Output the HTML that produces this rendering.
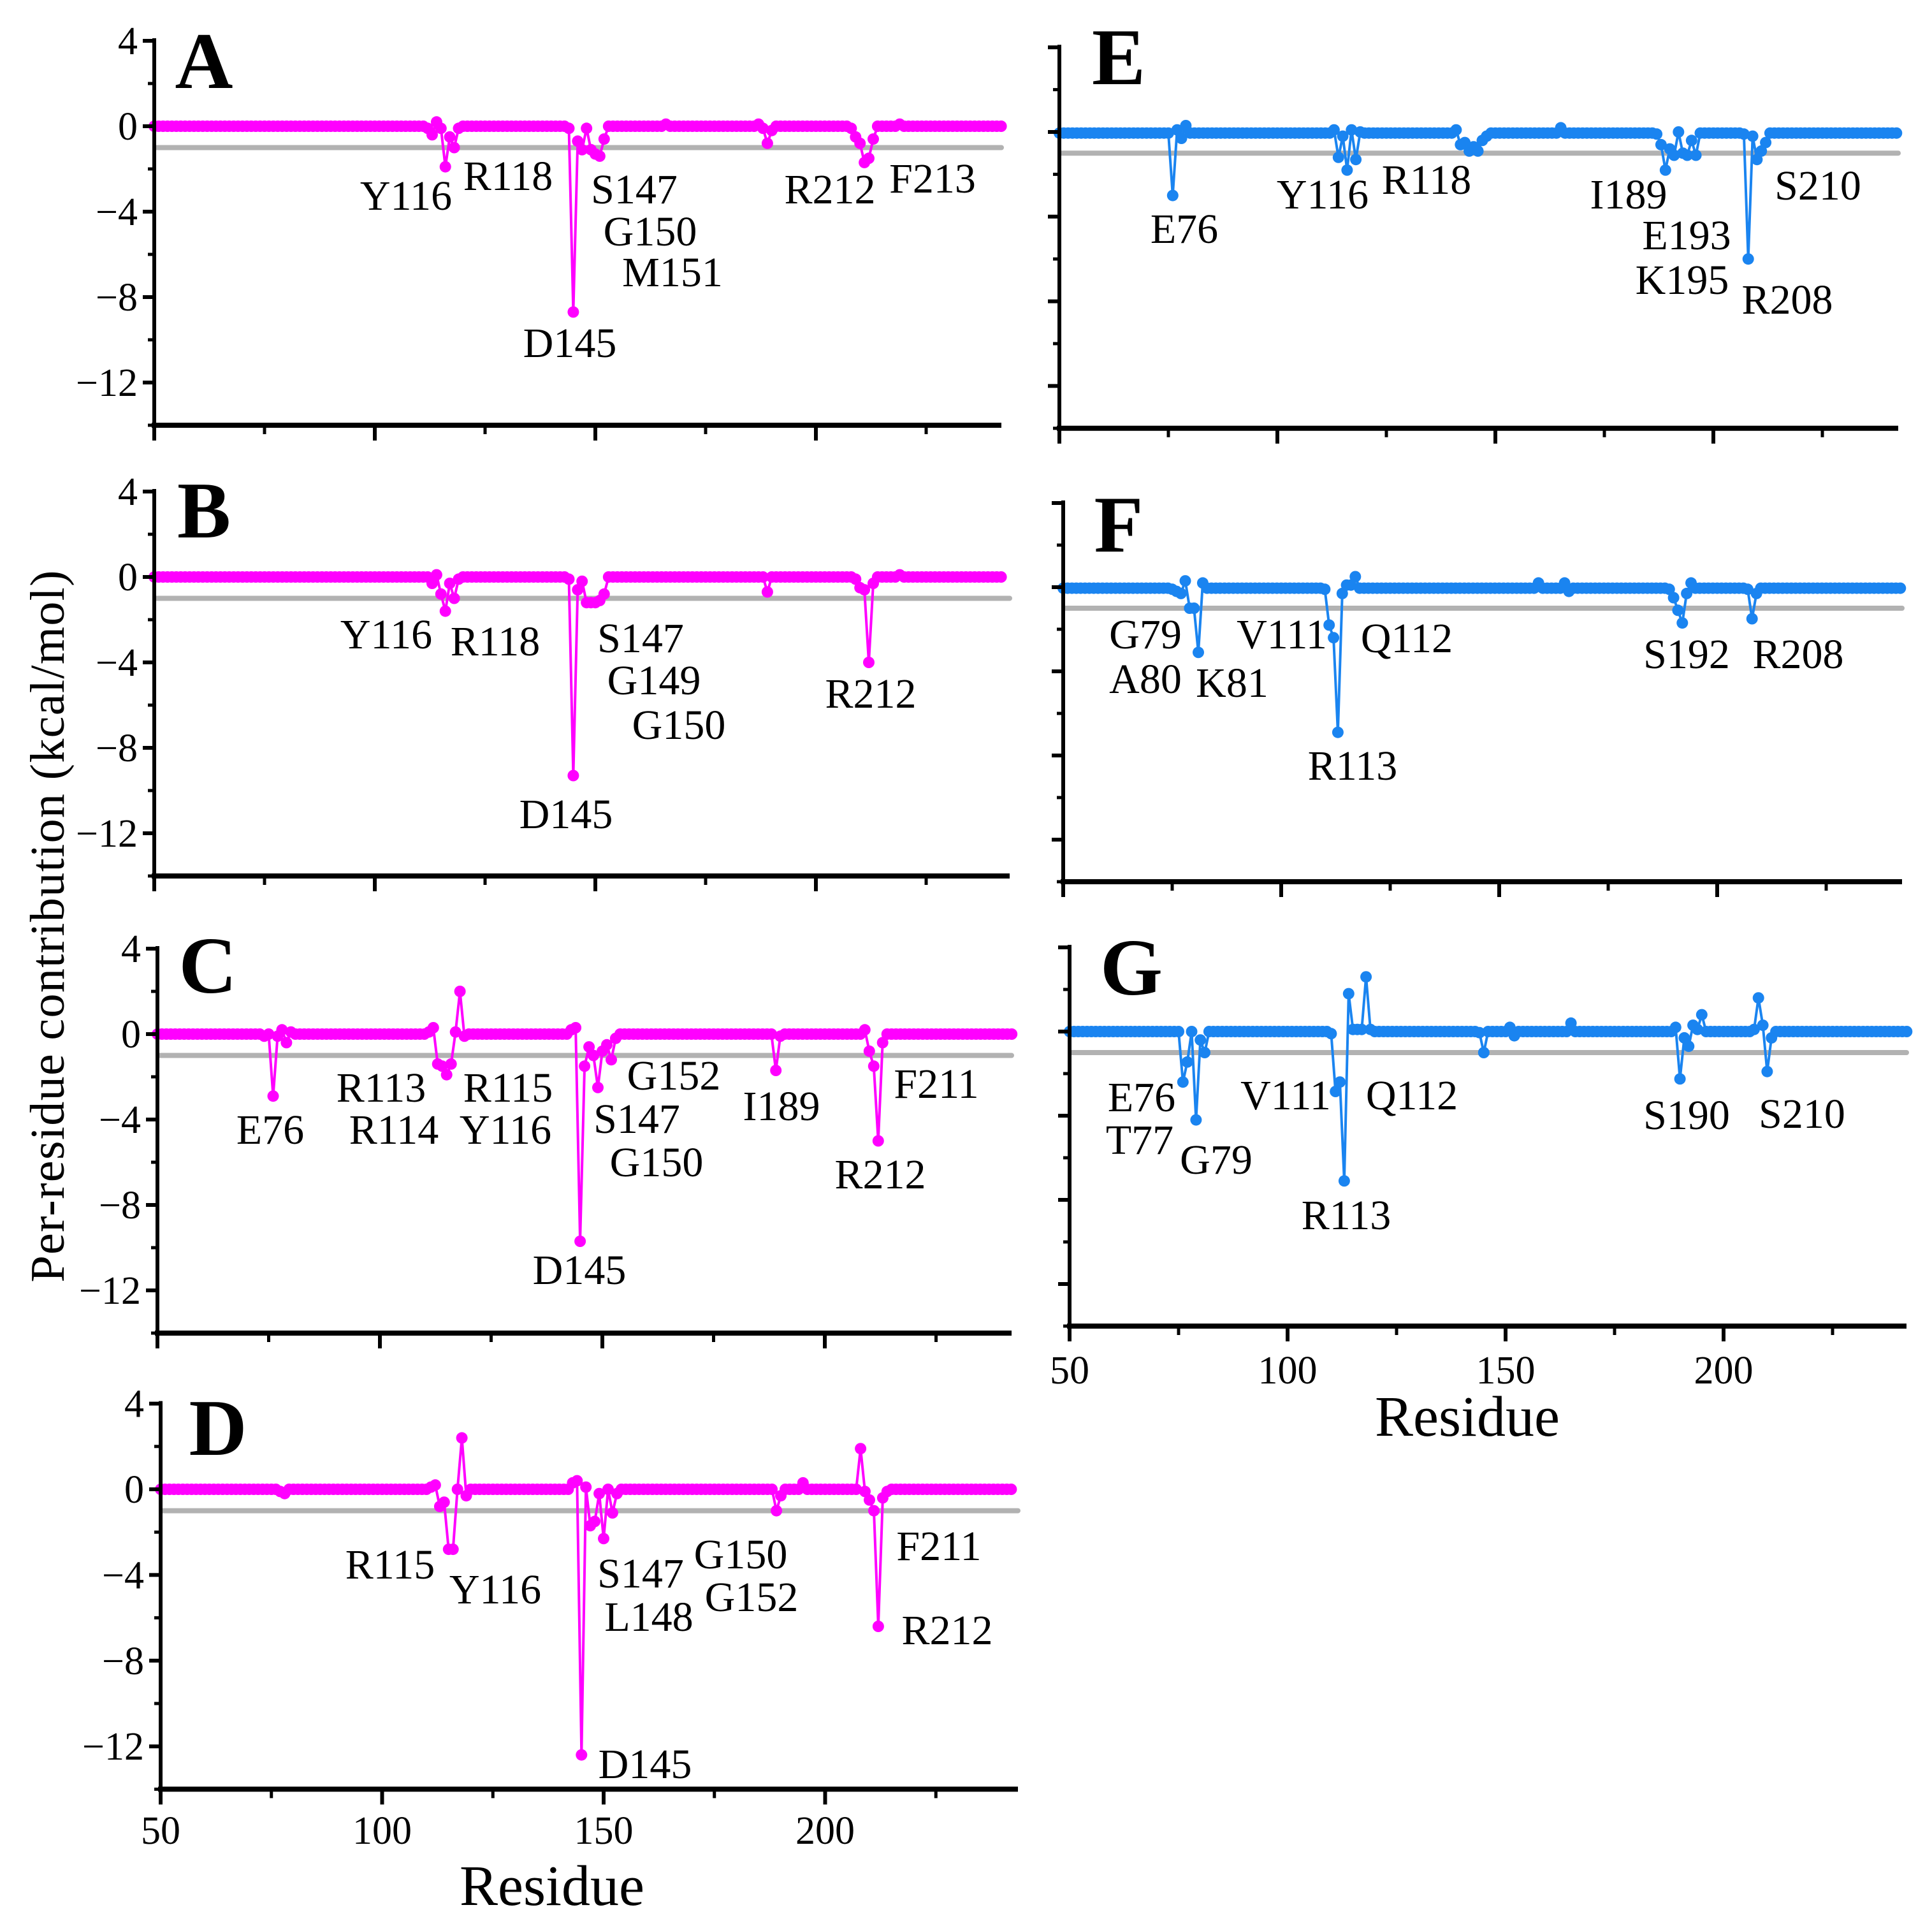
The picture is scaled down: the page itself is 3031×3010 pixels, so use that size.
<!DOCTYPE html>
<html><head><meta charset="utf-8"><style>
html,body{margin:0;padding:0;background:#fff;}
svg{display:block;font-family:"Liberation Serif","DejaVu Serif",serif;}
</style></head><body>
<svg id="fig" width="3031" height="3010" viewBox="0 0 3031 3010" xmlns="http://www.w3.org/2000/svg">
<rect x="0" y="0" width="3031" height="3010" fill="#ffffff"/>
<text transform="translate(100,1453) rotate(-90)" text-anchor="middle" font-size="76" textLength="1117" lengthAdjust="spacing">Per-residue contribution (kcal/mol)</text>
</svg>
<script>
// ---- data (residue, value) for notable residues; others at baseline ----
const resMin = 50, resMax = 242;
const baseA = 0.0, baseB = 0.0, baseC = 0.0, baseD = 0.0, baseE = -0.05, baseF = -0.05, baseG = 0.0;
const resA = [112,113,114,115,116,117,118,119,144,145,146,147,148,149,150,151,152,166,187,188,189,190,208,209,210,211,212,213,219];
const valA = [-0.1,-0.4,0.2,-0.1,-1.9,-0.5,-1.0,-0.1,-0.1,-8.7,-0.7,-1.1,-0.1,-1.1,-1.3,-1.4,-0.6,0.1,0.1,-0.1,-0.8,-0.2,-0.1,-0.5,-0.8,-1.7,-1.5,-0.6,0.1];
const resB = [112,113,114,115,116,117,118,119,144,145,146,147,148,149,150,151,152,189,209,210,211,212,213,219];
const valB = [0.0,-0.3,0.1,-0.8,-1.6,-0.3,-1.0,-0.1,-0.1,-9.3,-0.6,-0.2,-1.2,-1.2,-1.2,-1.1,-0.8,-0.7,-0.1,-0.5,-0.6,-4.0,-0.3,0.1];
const resC = [74,75,76,77,78,79,80,111,112,113,114,115,116,117,118,119,143,144,145,146,147,148,149,150,151,152,153,189,190,209,210,211,212,213];
const valC = [-0.1,0.0,-2.9,-0.1,0.2,-0.4,0.1,0.1,0.3,-1.4,-1.5,-1.9,-1.4,0.1,2.0,-0.1,0.2,0.3,-9.7,-1.5,-0.6,-1.0,-2.5,-0.8,-0.5,-1.2,-0.2,-1.7,-0.1,0.2,-0.8,-1.5,-5.0,-0.4];
const resD = [77,78,111,112,113,114,115,116,117,118,119,143,144,145,146,147,148,149,150,151,152,153,189,190,195,208,209,210,211,212,213,214];
const valD = [-0.1,-0.2,0.1,0.2,-0.8,-0.6,-2.8,-2.8,0.0,2.4,-0.3,0.3,0.4,-12.4,0.1,-1.7,-1.5,-0.2,-2.3,0.0,-1.1,-0.2,-1.0,-0.3,0.3,1.9,-0.1,-0.5,-1.0,-6.4,-0.4,-0.1];
const resE = [75,76,77,78,79,113,114,115,116,117,118,119,141,142,143,144,145,146,147,148,165,187,188,189,190,191,192,193,194,195,196,207,208,209,210,211,212];
const valE = [-0.05,-3.0,0.1,-0.3,0.3,0.1,-1.2,-0.2,-1.8,0.1,-1.3,0.0,0.1,-0.6,-0.5,-0.9,-0.7,-0.9,-0.4,-0.2,0.2,-0.1,-0.6,-1.8,-0.8,-1.1,0.0,-1.0,-1.1,-0.4,-1.1,-0.1,-6.0,-0.2,-1.3,-0.9,-0.5];
const resF = [75,76,77,78,79,80,81,82,110,111,112,113,114,115,116,117,159,165,166,189,190,191,192,193,194,207,208,209];
const valF = [-0.1,-0.2,-0.3,0.3,-1.0,-1.0,-3.1,0.2,-0.1,-1.8,-2.4,-6.9,-0.3,0.1,0.1,0.5,0.2,0.2,-0.2,-0.1,-0.5,-1.1,-1.7,-0.3,0.2,-0.1,-1.5,-0.3];
const resG = [75,76,77,78,79,80,81,82,110,111,112,113,114,115,116,117,118,119,144,145,146,151,152,165,189,190,191,192,193,194,195,196,207,208,209,210,211];
const valG = [0.0,-2.4,-1.45,0.0,-4.2,-0.4,-1.0,0.0,-0.1,-2.85,-2.4,-7.1,1.8,0.1,0.1,0.1,2.6,0.1,-0.05,-1.0,0.0,0.2,-0.2,0.4,0.2,-2.25,-0.3,-0.7,0.3,0.1,0.8,0.0,0.1,1.6,0.3,-1.9,-0.3];
const yMajorTicks = [4, 0, -4, -8, -12];
const yMinorTicks = [2, -2, -6, -10, -14];
const xMajorTicks = [50, 100, 150, 200];
const xMinorTicks = [75, 125, 175, 225];
const threshold = -1;

const NS = 'http://www.w3.org/2000/svg';
const svg = document.getElementById('fig');
function mk(tag, attrs, parent, text) {
  const e = document.createElementNS(NS, tag);
  for (const k in attrs) e.setAttribute(k, attrs[k]);
  if (text !== undefined) e.textContent = text;
  (parent || svg).appendChild(e);
  return e;
}

const panels = [
  {id:'a', letter:'A', res:resA, val:valA, base:baseA, x0:242, xs:6.92, xEnd:1571, y0:198, ys:33.5, color:'#ff00ff', ylab:true, xlab:false, lx:320, ly:138,
   labels:[['Y116',328,158],['R118',410,142],['S147',512,153],['G150',525,187],['M151',543,220],['D145',460,277],['R212',670,153],['F213',753,144]]},
  {id:'b', letter:'B', res:resB, val:valB, base:baseB, x0:242, xs:6.92, xEnd:1584, y0:905, ys:33.5, color:'#ff00ff', ylab:true, xlab:false, lx:320, ly:843,
   labels:[['Y116',312,512],['R118',400,518],['S147',517,515],['G149',528,549],['G150',548,585],['D145',457,657],['R212',703,560]]},
  {id:'c', letter:'C', res:resC, val:valC, base:baseC, x0:247, xs:6.98, xEnd:1587, y0:1622, ys:33.5, color:'#ff00ff', ylab:true, xlab:false, lx:326, ly:1557,
   labels:[['E76',218,912],['R113',308,878],['R114',318,912],['R115',410,878],['Y116',408,912],['G152',544,868],['S147',514,903],['G150',530,938],['I189',631,893],['F211',756,875],['R212',711,948],['D145',468,1025]]},
  {id:'d', letter:'D', res:resD, val:valD, base:baseD, x0:252, xs:6.95, xEnd:1597, y0:2336, ys:33.6, color:'#ff00ff', ylab:true, xlab:true, lx:342, ly:2282, xly:2892, rly:2988, rlx:866,
   labels:[['R115',315,1263],['Y116',400,1283],['S147',517,1270],['L148',524,1305],['G150',598,1255],['G152',607,1289],['F211',758,1248],['R212',765,1316],['D145',521,1424]]},
  {id:'e', letter:'E', res:resE, val:valE, base:baseE, x0:1662, xs:6.84, xEnd:2978, y0:207, ys:33.2, color:'#1a84f0', ylab:false, xlab:false, lx:1755, ly:132,
   labels:[['E76',956,185],['Y116',1068,157],['R118',1152,145],['I189',1315,157],['E193',1362,190],['K195',1358,226],['R208',1443,242],['S210',1468,150]]},
  {id:'f', letter:'F', res:resF, val:valF, base:baseF, x0:1668, xs:6.84, xEnd:2984, y0:921, ys:33.0, color:'#1a84f0', ylab:false, xlab:false, lx:1755, ly:865,
   labels:[['G79',925,512],['A80',925,548],['K81',995,551],['V111',1035,512],['Q112',1136,515],['R113',1092,618],['S192',1362,528],['R208',1452,528]]},
  {id:'g', letter:'G', res:resG, val:valG, base:baseG, x0:1678, xs:6.84, xEnd:2991, y0:1618, ys:33.0, color:'#1a84f0', ylab:false, xlab:true, lx:1775, ly:1560, xly:2170, rly:2252, rlx:2302,
   labels:[['E76',922,886],['T77',920,920],['G79',982,936],['V111',1038,884],['Q112',1140,884],['R113',1087,981],['S190',1362,900],['S210',1455,899]]}
];

panels.forEach(p => {
  const X = r => p.x0 + (r - resMin) * p.xs;
  const Y = v => p.y0 - v * p.ys;
  const g = mk('g', {});
  
  

  const th = mk('line', {x1:X(resMin)+4, x2:p.xEnd, y1:Y(threshold), y2:Y(threshold), stroke:'#b2b2b2', 'stroke-width':8, 'stroke-linecap':'round'}, g);
  
  

  const vals = [];
  for (let r = resMin; r <= resMax; r++) {
    const i = p.res.indexOf(r);
    vals.push([r, i >= 0 ? p.val[i] : p.base]);
  }
  const d = vals.map((rv, i) => (i ? 'L' : 'M') + X(rv[0]).toFixed(1) + ' ' + Y(rv[1]).toFixed(1)).join(' ');
  const ln = mk('path', {d:d, fill:'none', stroke:p.color, 'stroke-width':4}, g);
  
  
  const pts = mk('g', {fill:p.color}, g);
  
  
  vals.forEach(rv => {
    const c = mk('circle', {cx:X(rv[0]).toFixed(1), cy:Y(rv[1]).toFixed(1), r:9}, pts);
    
    
  });

  const ya = mk('line', {x1:p.x0, x2:p.x0, y1:Y(4)-4, y2:Y(-14)+4, stroke:'#000', 'stroke-width':6}, g);
  
  
  const xa = mk('line', {x1:p.x0-4, x2:p.xEnd, y1:Y(-14), y2:Y(-14), stroke:'#000', 'stroke-width':8}, g);
  
  
  yMajorTicks.forEach(t => {
    const tk = mk('line', {x1:p.x0-18, x2:p.x0, y1:Y(t), y2:Y(t), stroke:'#000', 'stroke-width':6}, g);
    
    
    if (p.ylab) {
      const tl = mk('text', {x:p.x0-26, y:Y(t)+21, 'text-anchor':'end', 'font-size':62}, g, t < 0 ? '\u2212' + (-t) : String(t));
      
      
    }
  });
  yMinorTicks.forEach(t => {
    const tk = mk('line', {x1:p.x0-10, x2:p.x0, y1:Y(t), y2:Y(t), stroke:'#000', 'stroke-width':5}, g);
    
    
  });
  xMajorTicks.forEach(t => {
    const tk = mk('line', {x1:X(t), x2:X(t), y1:Y(-14), y2:Y(-14)+24, stroke:'#000', 'stroke-width':6}, g);
    
    
    if (p.xlab) {
      const tl = mk('text', {x:X(t), y:p.xly, 'text-anchor':'middle', 'font-size':62}, g, String(t));
      
      
    }
  });
  xMinorTicks.forEach(t => {
    const tk = mk('line', {x1:X(t), x2:X(t), y1:Y(-14), y2:Y(-14)+14, stroke:'#000', 'stroke-width':5}, g);
    
    
  });
  if (p.xlab) {
    const xt = mk('text', {x:p.rlx, y:p.rly, 'text-anchor':'middle', 'font-size':90}, g, 'Residue');
    
    
  }
  const pl = mk('text', {x:p.lx, y:p.ly, 'text-anchor':'middle', 'font-size':126, 'font-weight':'bold'}, g, p.letter);
  
  
  p.labels.forEach(l => {
    const t = mk('text', {x:(l[1]*1.943).toFixed(0), y:(l[2]*1.943+22).toFixed(0), 'text-anchor':'middle', 'font-size':66}, g, l[0]);
    
    
  });
});
</script>
</body></html>
